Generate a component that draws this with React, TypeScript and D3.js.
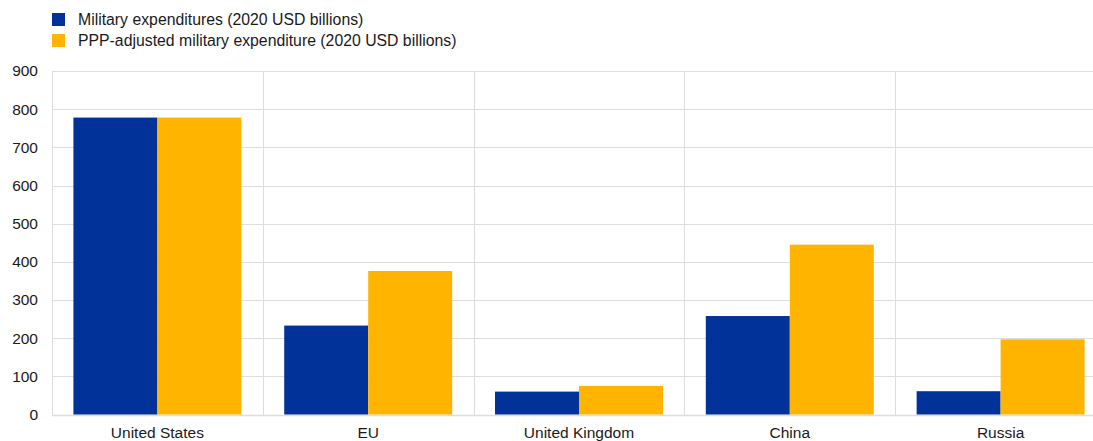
import React from "react";
import * as d3 from "d3";

const categories = ["United States", "EU", "United Kingdom", "China", "Russia"];
const seriesNames = [
  "Military expenditures (2020 USD billions)",
  "PPP-adjusted military expenditure (2020 USD billions)",
];
const militaryExp = [778, 233, 60, 258, 61];
const pppAdjusted = [778, 376, 75, 445, 197];
const yTicks = [0, 100, 200, 300, 400, 500, 600, 700, 800, 900];
const colors = ["#003299", "#FFB400"];

const W = 1093;
const H = 441;
const FONT = "'Liberation Sans', Arial, sans-serif";

export default function App() {
  const x0 = d3.scaleBand<string>().domain(categories).range([52, 1106]).paddingInner(0).paddingOuter(0);
  const x1 = d3
    .scaleBand<number>()
    .domain([0, 1])
    .range([0, x0.bandwidth()])
    .paddingInner(0)
    .paddingOuter(0.255);
  const y = d3.scaleLinear().domain([0, 900]).range([414.5, 71]);
  const series = [militaryExp, pppAdjusted];
  const grid = "#dedede";

  return (
    <svg
      width={W}
      height={H}
      style={{ position: "absolute", left: 0, top: 0, background: "#fff" }}
      fontFamily={FONT}
    >
      {yTicks.map((t) => (
        <line
          key={"g" + t}
          x1={52}
          x2={W}
          y1={Math.round(y(t)) + 0.5}
          y2={Math.round(y(t)) + 0.5}
          stroke={grid}
          strokeWidth={t === 0 ? 1.5 : 1}
        />
      ))}
      {categories.map((c) => (
        <line
          key={"v" + c}
          x1={Math.round(x0(c)!) + 0.5}
          x2={Math.round(x0(c)!) + 0.5}
          y1={Math.round(y(900))}
          y2={Math.round(y(0)) + 1}
          stroke={grid}
          strokeWidth={1}
        />
      ))}
      {categories.map((c, i) =>
        series.map((s, j) => (
          <rect
            key={c + j}
            x={x0(c)! + x1(j)!}
            y={y(s[i])}
            width={x1.bandwidth()}
            height={y(0) - y(s[i])}
            fill={colors[j]}
          />
        ))
      )}
      {yTicks.map((t) => (
        <text
          key={"t" + t}
          x={38}
          y={y(t)}
          dy="0.35em"
          textAnchor="end"
          fontSize={15.5}
          fill="#1a1a1a"
        >
          {t}
        </text>
      ))}
      {categories.map((c) => (
        <text
          key={"x" + c}
          x={x0(c)! + x0.bandwidth() / 2}
          y={438}
          textAnchor="middle"
          fontSize={15.5}
          fill="#1a1a1a"
        >
          {c}
        </text>
      ))}
      {seriesNames.map((n, j) => (
        <g key={"l" + j} transform={`translate(52, ${13 + j * 21})`}>
          <rect x={0} y={0} width={13} height={13} fill={colors[j]} />
          <text x={26} y={11.5} fontSize={15.8} fill="#1a1a1a">
            {n}
          </text>
        </g>
      ))}
    </svg>
  );
}
